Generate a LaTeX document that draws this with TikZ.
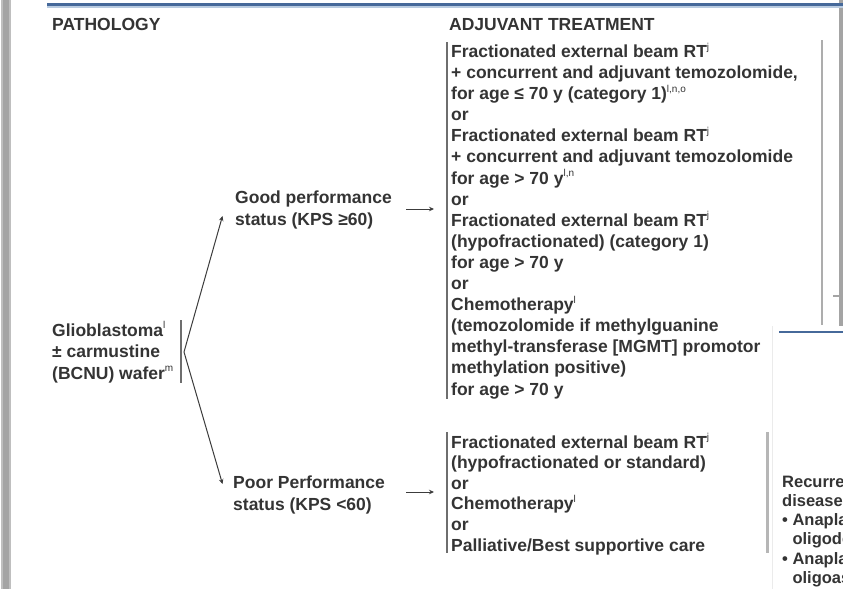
\documentclass[tikz,border=0pt]{standalone}
\usepackage{fontspec}
\setmainfont{Liberation Sans}
\usetikzlibrary{arrows.meta}
\definecolor{textc}{HTML}{343434}
\definecolor{linec}{HTML}{3C3C3C}
\definecolor{barc}{HTML}{6E6E6E}
\definecolor{blueline}{HTML}{46699A}
\definecolor{bluelight}{HTML}{B9CBE0}
\definecolor{frame}{HTML}{A4A4A4}
\newcommand{\fsz}[1]{\fontsize{17.5}{#1}\selectfont\bfseries}
\newcommand{\sps}[1]{\raisebox{0.42em}{\mdseries\fontsize{10}{10}\selectfont #1}}
\begin{document}
\begin{tikzpicture}[x=1pt,y=-1pt,
  txt/.style={font=\fsz{21}, text=textc, inner sep=0pt, anchor=base west, align=left},
  smalltxt/.style={font=\fontsize{16.5}{19.3}\selectfont\bfseries, text=textc, inner sep=0pt, anchor=base west, align=left},
  conn/.style={draw=linec, line width=1pt, -{Stealth[length=5pt,width=4.5pt]}},
  bracebar/.style={draw=barc, line width=1.3pt},
  greybar/.style={draw=frame!90, line width=1.6pt}]
\useasboundingbox (0,0) rectangle (843,589);
\fill[white] (0,0) rectangle (843,589);
% window frame pieces
\fill[frame!70] (1,0) rectangle (11,589);
\fill[frame] (3,0) rectangle (9,589);
\fill[frame] (839,0) rectangle (843,326);
\draw[bluelight, line width=2pt] (47,7) -- (843,7);
\draw[blueline, line width=2.5pt] (47,4.5) -- (843,4.5);
% headers (anchor = baseline of last line)
\node[txt] (path) at (52,30) {PATHOLOGY};
\node[txt] (adj) at (449,30) {ADJUVANT TREATMENT};
% pathology
\node[txt, font=\fsz{21.5}] (glio) at (52,379) {Glioblastoma\sps{l}\\± carmustine\\(BCNU) wafer\sps{m}};
\draw[bracebar] (181,320) -- (181,383);
\node[txt, font=\fsz{22}] (good) at (235,225) {Good performance\\status (KPS ≥60)};
\node[txt, font=\fsz{22}] (poor) at (233,510) {Poor Performance\\status (KPS <60)};
\coordinate (fork) at (184,352);
\coordinate (gtip) at (222.5,216);
\coordinate (ptip) at (222.5,484);
\draw[conn] (fork) -- (gtip);
\draw[conn] (fork) -- (ptip);
\coordinate (ga1) at (406,209);
\coordinate (ga2) at (434,209);
\coordinate (pa1) at (406,492);
\coordinate (pa2) at (434,492);
\draw[conn] (ga1) -- (ga2);
\draw[conn] (pa1) -- (pa2);
% treatment box 1
\draw[bracebar] (447,42) -- (447,399);
\node[txt, font=\fsz{21.1}] (treat1) at (451,395) {Fractionated external beam RT\sps{j}\\
+ concurrent and adjuvant temozolomide,\\
for age ≤ 70 y (category 1)\sps{l,n,o}\\
or\\
Fractionated external beam RT\sps{j}\\
+ concurrent and adjuvant temozolomide\\
for age > 70 y\sps{l,n}\\
or\\
Fractionated external beam RT\sps{j}\\
(hypofractionated) (category 1)\\
for age > 70 y\\
or\\
Chemotherapy\sps{l}\\
(temozolomide if methylguanine\\
methyl-transferase [MGMT] promotor\\
methylation positive)\\
for age > 70 y};
% treatment box 2
\draw[bracebar] (447,432) -- (447,553);
\node[txt, font=\fsz{20.6}] (treat2) at (451,551) {Fractionated external beam RT\sps{j}\\
(hypofractionated or standard)\\
or\\
Chemotherapy\sps{l}\\
or\\
Palliative/Best supportive care};
% right side lines
\draw[greybar, line width=1.5pt] (822,40) -- (822,325);
\draw[frame, line width=1.5pt] (833,296) -- (840,296);
\draw[frame!80, line width=3pt] (767,432) -- (767,553);
% overlapping window
\fill[white] (772,326) rectangle (843,589);
\draw[black!8, line width=1pt] (772,326) -- (772,589);
\draw[blueline, line width=2pt] (779,332) -- (843,332);
\begin{scope}
\clip (772,326) rectangle (843,589);
\node[smalltxt] (recur) at (782,583.5) {Recurre\\disease\sps{l}\\• Anapla\\\hphantom{• }oligode\\• Anapla\\\hphantom{• }oligoas};
\end{scope}
\end{tikzpicture}
\end{document}
